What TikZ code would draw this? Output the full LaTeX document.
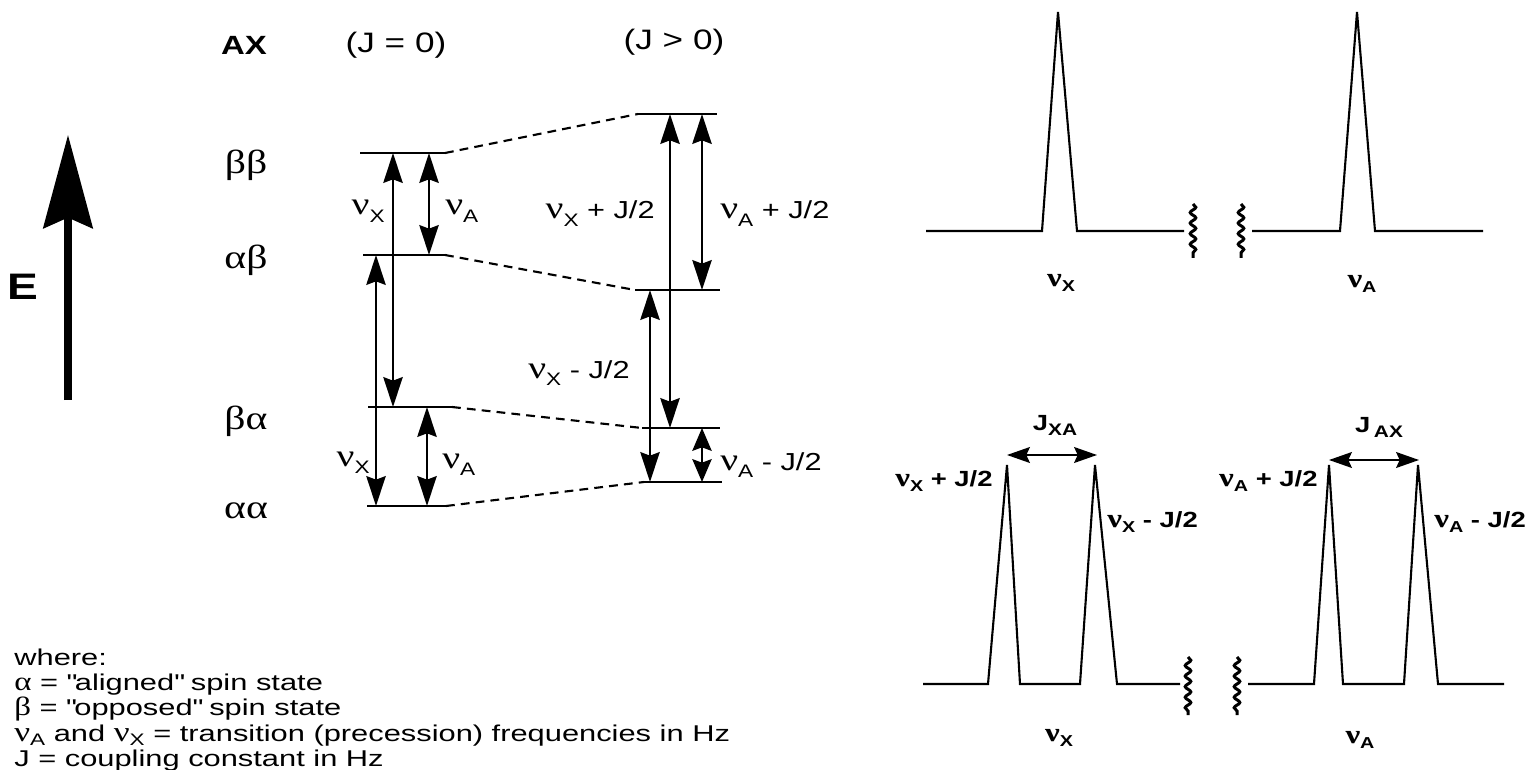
\documentclass[tikz,border=0pt]{standalone}
\usepackage{fontspec}
\setmainfont{Liberation Sans}[FakeStretch=1.25]
\newfontfamily\grk{Liberation Serif}[FakeStretch=1.25]
\newfontfamily\legsans{Liberation Sans}[FakeStretch=1.35]
\usetikzlibrary{arrows.meta,decorations.pathmorphing}

% nu with a lowered index
\newcommand\nv[1]{{\grk\fontsize{18}{18}\selectfont ν}\raisebox{-4pt}{\fontsize{10.3}{10.3}\selectfont #1}}
\newcommand\bnv[1]{{\grk\bfseries\fontsize{15}{15}\selectfont ν}\raisebox{-3pt}{\fontsize{9}{9}\selectfont\bfseries #1}}
\newcommand\lnv[1]{{\grk\fontsize{16}{16}\selectfont ν}\raisebox{-2.5pt}{\fontsize{9.5}{9.5}\selectfont #1}}

\tikzset{
  lvl/.style={line width=1.2pt},
  link/.style={line width=1.2pt, dash pattern=on 5pt off 3.5pt},
  trans/.style={line width=1.2pt, <->},
  long/.style={>={Stealth[length=17pt,width=11pt,inset=2pt]}},
  short/.style={>={Stealth[length=13pt,width=11pt,inset=2pt]}},
  jarr/.style={line width=1.2pt, <->, >={Stealth[length=13pt,width=9pt,inset=2pt]}},
  lbl/.style={inner sep=0pt, font=\fontsize{14}{16}\selectfont},
  head/.style={inner sep=0pt, font=\fontsize{16}{18}\selectfont},
  leg/.style={inner sep=0pt, anchor=base west, font=\legsans\fontsize{13}{15}\selectfont},
  spin/.style={inner sep=0pt, anchor=base, font=\grk\fontsize{19}{19}\selectfont},
  spec/.style={line width=1.2pt, line join=miter},
  brk/.style={line width=1.7pt, decorate, decoration={snake, segment length=6pt, amplitude=1.6pt}},
  slbl/.style={inner sep=0pt, font=\bfseries\fontsize{12.5}{14}\selectfont},
}

\begin{document}
\begin{tikzpicture}[x=0.02cm, y=-0.02cm]
\useasboundingbox (0,0) rectangle (1525,770);

% energy axis
\coordinate (e0) at (68,400);
\coordinate (e1) at (68,135);
\draw[line width=4pt, -{Stealth[length=53pt,width=28pt,inset=6pt]}] (e0) -- (e1);
\node[inner sep=0pt, font=\bfseries\fontsize{21}{21}\selectfont] (E) at (23,287) {E};

% headings
\node[head, font=\bfseries\fontsize{15}{17}\selectfont] (ax) at (244,45) {AX};
\node[head] (j0) at (396,45) {(J = 0)};
\node[head] (j1) at (674,42) {(J > 0)};

% levels, J = 0 on the left, J > 0 on the right
\foreach \n/\a/\b/\y/\c/\d/\z in {bb/360/445/153/638/717/114, ab/363/445/255/635/720/290,
                                 ba/368/452/407/642/720/428, aa/367/446/506/644/722/482} {
  \coordinate (\n1) at (\a,\y);
  \coordinate (\n2) at (\b,\y);
  \coordinate (\n3) at (\c,\z);
  \coordinate (\n4) at (\d,\z);
  \draw[lvl] (\n1) -- (\n2);
  \draw[lvl] (\n3) -- (\n4);
  \draw[link] (\n2) -- (\n3);
}
\node[spin] (sbb) at (246,174) {ββ};
\node[spin] (sab) at (246,269) {αβ};
\node[spin] (sba) at (246,429) {βα};
\node[spin] (saa) at (246,518) {αα};

% transitions
\foreach \x/\a/\b/\s in {393/bb1/ba1/long, 429/bb1/ab1/long, 376/ab1/aa1/long, 427/ba1/aa1/long,
                         670/bb3/ba3/long, 702/bb3/ab3/long, 650/ab3/aa3/long, 702/ba3/aa3/short}
  \draw[trans, \s] (\x,0 |- \a) -- (\x,0 |- \b);

\node[lbl, anchor=base east] (t1) at (385,215) {\nv{X}};
\node[lbl, anchor=base west] (t2) at (445,215) {\nv{A}};
\node[lbl, anchor=base east] (t3) at (655,219) {\nv{X} + J/2};
\node[lbl, anchor=base west] (t4) at (720,219) {\nv{A} + J/2};
\node[lbl, anchor=base east] (t5) at (630,378) {\nv{X} - J/2};
\node[lbl, anchor=base east] (t6) at (370,466) {\nv{X}};
\node[lbl, anchor=base west] (t7) at (442,468) {\nv{A}};
\node[lbl, anchor=base west] (t8) at (720,470) {\nv{A} - J/2};

% legend
\node[leg] (w0) at (14,665) {where:};
\node[leg] (w1) at (14,690) {{\grk\fontsize{15}{15}\selectfont α} = \textquotedbl aligned\textquotedbl{} spin state};
\node[leg] (w2) at (14,715) {{\grk\fontsize{15}{15}\selectfont β} = \textquotedbl opposed\textquotedbl{} spin state};
\node[leg] (w3) at (14,741) {\lnv{A} and \lnv{X} = transition (precession) frequencies in Hz};
\node[leg] (w4) at (14,766) {J = coupling constant in Hz};

% spectrum, J = 0
\draw[spec] (926,231) -- (1042,231) -- (1058,12) -- (1077,231) -- (1184,231);
\draw[spec] (1252,231) -- (1340,231) -- (1357,12) -- (1375,231) -- (1483,231);
\draw[brk] (1193,204) -- (1193,258);
\draw[brk] (1241,204) -- (1241,258);
\node[slbl] (sx) at (1061,283) {\bnv{X}};
\node[slbl] (sa) at (1362,284) {\bnv{A}};

% spectrum, J > 0
\draw[spec] (923,684) -- (988,684) -- (1007,465) -- (1020,684) -- (1080,684) -- (1095,465) -- (1117,684) -- (1180,684);
\draw[spec] (1248,684) -- (1314,684) -- (1329,465) -- (1343,684) -- (1404,684) -- (1418,465) -- (1438,684) -- (1504,684);
\draw[brk] (1188,657) -- (1188,715);
\draw[brk] (1237,657) -- (1237,715);
\coordinate (jx1) at (1007,455);
\coordinate (jx2) at (1097,455);
\coordinate (ja1) at (1329,460);
\coordinate (ja2) at (1419,460);
\draw[jarr] (jx1) -- (jx2);
\draw[jarr] (ja1) -- (ja2);
\node[slbl, anchor=base] (jxa) at (1055,430) {J\raisebox{-3pt}{\fontsize{9.5}{9.5}\selectfont XA}};
\node[slbl, anchor=base] (jax) at (1379,432) {J\,\raisebox{-3pt}{\fontsize{9.5}{9.5}\selectfont AX}};
\node[slbl, anchor=base east] (p1) at (993,486) {\bnv{X} + J/2};
\node[slbl, anchor=base west] (p2) at (1107,527) {\bnv{X} - J/2};
\node[slbl, anchor=base east] (p3) at (1318,486) {\bnv{A} + J/2};
\node[slbl, anchor=base west] (p4) at (1434,527) {\bnv{A} - J/2};
\node[slbl] (bx) at (1059,738) {\bnv{X}};
\node[slbl] (ba) at (1360,740) {\bnv{A}};
\end{tikzpicture}
\end{document}
